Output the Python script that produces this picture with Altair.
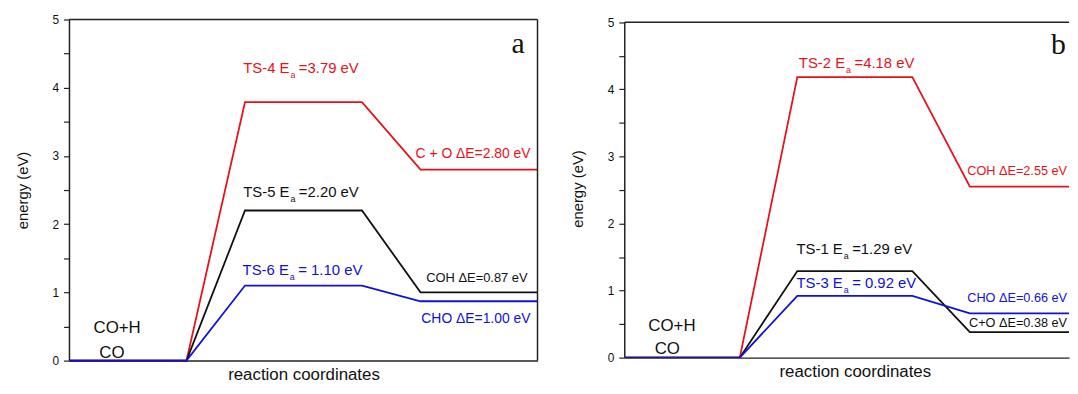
import altair as alt
import pandas as pd

# ---------------- data ----------------
stage_x = [0, 2, 3, 5, 6, 8]

a_red = [0, 0, 3.79, 3.79, 2.80, 2.80]
a_black = [0, 0, 2.20, 2.20, 1.00, 1.00]
a_blue = [0, 0, 1.10, 1.10, 0.87, 0.87]

b_red = [0, 0, 4.18, 4.18, 2.55, 2.55]
b_black = [0, 0, 1.29, 1.29, 0.38, 0.38]
b_blue = [0, 0, 0.92, 0.92, 0.66, 0.66]

y_tick_values = [0, 0.5, 1, 1.5, 2, 2.5, 3, 3.5, 4, 4.5, 5]

RED = "#e5121b"
BLACK = "#111111"
BLUE = "#1010d8"

# transition-state labels (prefix + subscript "a" + suffix), anchored at the split point
a_ts_prefix = ["TS-4 E", "TS-5 E", "TS-6 E"]
a_ts_suffix = ["=3.79 eV", "=2.20 eV", "= 1.10 eV"]
a_ts_color = [RED, BLACK, BLUE]
a_ts_x = [3.76, 3.76, 3.75]
a_ts_y = [4.215, 2.398, 1.25]

b_ts_prefix = ["TS-2 E", "TS-1 E", "TS-3 E"]
b_ts_suffix = ["=4.18 eV", "=1.29 eV", "= 0.92 eV"]
b_ts_color = [RED, BLACK, BLUE]
b_ts_x = [3.83, 3.79, 3.79]
b_ts_y = [4.32, 1.538, 1.036]

# product labels
a_de_text = ["C + O \u0394E=2.80 eV", "COH \u0394E=0.87 eV", "CHO \u0394E=1.00 eV"]
a_de_color = [RED, BLACK, BLUE]
a_de_x = [7.88, 7.83, 7.88]
a_de_y = [2.965, 1.148, 0.552]
a_de_size = [14, 13, 14]
a_de_align = ["right", "right", "right"]

b_de_text = ["COH \u0394E=2.55 eV", "CHO \u0394E=0.66 eV", "C+O \u0394E=0.38 eV"]
b_de_color = [RED, BLUE, BLACK]
b_de_x = [7.69, 7.69, 7.69]
b_de_y = [2.722, 0.828, 0.459]
b_de_size = [12.8, 12.8, 12.8]
b_de_align = ["right", "right", "right"]

# reactant labels
reac_text = ["CO+H", "CO"]
a_reac_x = [0.41, 0.51]
a_reac_y = [0.407, 0.044]
b_reac_x = [0.41, 0.52]
b_reac_y = [0.399, 0.059]

panel_letters = ["a", "b"]
a_letter_x, a_letter_y = 7.78, 4.506
b_letter_x, b_letter_y = 7.67, 4.527

SANS = "Liberation Sans"
SERIF = "Liberation Serif"
AXC = "#222222"


def panel(curves, ts, de, reac, letter, xmax, ymax, width, height, title_x, right_border, clip):
    xscale = alt.Scale(domain=[0, xmax], nice=False, zero=False)
    yscale = alt.Scale(domain=[0, ymax], nice=False)
    xaxis = alt.Axis(title="reaction coordinates", labels=False, ticks=False, grid=False,
                     domain=True, domainColor=AXC, domainWidth=1.5,
                     titleFont=SANS, titleFontSize=17, titleFontWeight="normal",
                     titleColor=BLACK, titlePadding=6, titleX=title_x)
    yaxis = alt.Axis(title="energy (eV)", values=y_tick_values,
                     labelExpr="datum.value % 1 == 0 ? format(datum.value, 'd') : ''",
                     grid=False, tickSize=6, tickColor=AXC, tickWidth=1.2,
                     domain=False,
                     labelFont=SANS, labelFontSize=12, labelColor=BLACK, labelPadding=5,
                     titleFont=SANS, titleFontSize=15, titleFontWeight="normal",
                     titleColor=BLACK, titlePadding=22)
    X = lambda f: alt.X(f, type="quantitative", scale=xscale, axis=xaxis)
    Y = lambda f: alt.Y(f, type="quantitative", scale=yscale, axis=yaxis)

    layers = []
    for vals, col in curves:
        df = pd.DataFrame({"x": stage_x, "E": vals})
        layers.append(
            alt.Chart(df).mark_line(color=col, strokeWidth=1.8, clip=clip)
            .encode(x=X("x"), y=Y("E"))
        )

    # frame: top border and left (and optionally right) border
    top = pd.DataFrame({"x": [0], "x2": [xmax], "E": [5]})
    layers.append(alt.Chart(top).mark_rule(color=AXC, strokeWidth=1.5)
                  .encode(x=X("x"), x2="x2", y=Y("E")))
    sides = [0, xmax] if right_border else [0]
    sdf = pd.DataFrame({"x": sides, "E": [0] * len(sides), "E2": [5] * len(sides)})
    layers.append(alt.Chart(sdf).mark_rule(color=AXC, strokeWidth=1.5)
                  .encode(x=X("x"), y=Y("E"), y2="E2"))

    prefix, suffix, colors, tx, ty = ts
    tdf = pd.DataFrame({"pre": prefix, "suf": suffix, "sub": ["a"] * len(prefix),
                        "c": colors, "x": tx, "E": ty})
    layers.append(alt.Chart(tdf).mark_text(align="right", baseline="alphabetic", font=SANS,
                                           fontSize=15)
                  .encode(x=X("x"), y=Y("E"), text="pre:N", color=alt.Color("c:N", scale=None)))
    layers.append(alt.Chart(tdf).mark_text(align="left", baseline="alphabetic", font=SANS,
                                           fontSize=9, dx=1, dy=5)
                  .encode(x=X("x"), y=Y("E"), text="sub:N", color=alt.Color("c:N", scale=None)))
    layers.append(alt.Chart(tdf).mark_text(align="left", baseline="alphabetic", font=SANS,
                                           fontSize=15, dx=9.5)
                  .encode(x=X("x"), y=Y("E"), text="suf:N", color=alt.Color("c:N", scale=None)))

    dtext, dcol, dx_, dy_, dsize, dalign = de
    for t, c, xx, yy, s, al in zip(dtext, dcol, dx_, dy_, dsize, dalign):
        ddf = pd.DataFrame({"t": [t], "x": [xx], "E": [yy]})
        layers.append(alt.Chart(ddf).mark_text(align=al, baseline="alphabetic", font=SANS,
                                               fontSize=s, color=c)
                      .encode(x=X("x"), y=Y("E"), text="t:N"))

    rx, ry = reac
    rdf = pd.DataFrame({"t": reac_text, "x": rx, "E": ry})
    layers.append(alt.Chart(rdf).mark_text(align="left", baseline="alphabetic", font=SANS,
                                           fontSize=17, color=BLACK)
                  .encode(x=X("x"), y=Y("E"), text="t:N"))

    lt, lx, ly = letter
    ldf = pd.DataFrame({"t": [lt], "x": [lx], "E": [ly]})
    layers.append(alt.Chart(ldf).mark_text(align="right", baseline="alphabetic", font=SERIF,
                                           fontSize=30, color=BLACK)
                  .encode(x=X("x"), y=Y("E"), text="t:N"))

    return alt.layer(*layers).properties(width=width, height=height)


left = panel(
    [(a_red, RED), (a_black, BLACK), (a_blue, BLUE)],
    (a_ts_prefix, a_ts_suffix, a_ts_color, a_ts_x, a_ts_y),
    (a_de_text, a_de_color, a_de_x, a_de_y, a_de_size, a_de_align),
    (a_reac_x, a_reac_y),
    (panel_letters[0], a_letter_x, a_letter_y),
    xmax=8, ymax=5, width=472, height=344, title_x=236, right_border=True, clip=False,
)

right = panel(
    [(b_red, RED), (b_black, BLACK), (b_blue, BLUE)],
    (b_ts_prefix, b_ts_suffix, b_ts_color, b_ts_x, b_ts_y),
    (b_de_text, b_de_color, b_de_x, b_de_y, b_de_size, b_de_align),
    (b_reac_x, b_reac_y),
    (panel_letters[1], b_letter_x, b_letter_y),
    xmax=7.724, ymax=5.04, width=448, height=341, title_x=232, right_border=False, clip=True,
)

chart = (
    alt.hconcat(left, right, spacing=29)
    .properties(padding={"left": 7, "top": 4, "right": 0, "bottom": 0}, background="white")
    .configure_view(stroke=None)
)

chart.save("out.html", embed_options={"renderer": "svg", "actions": False})
